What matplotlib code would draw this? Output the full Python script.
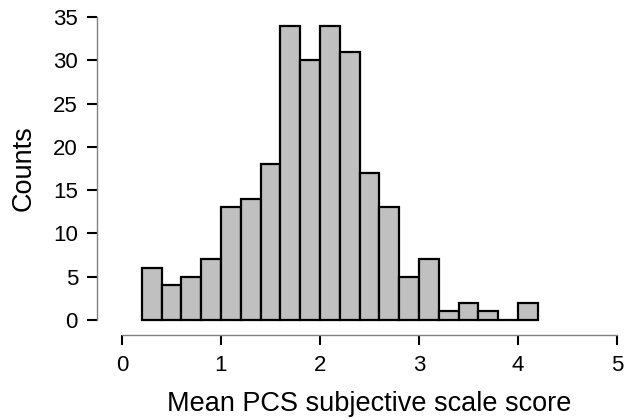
import matplotlib
matplotlib.use("Agg")
import matplotlib.pyplot as plt
import numpy as np

bin_edges = [0.2, 0.4, 0.6, 0.8, 1.0, 1.2, 1.4, 1.6, 1.8, 2.0, 2.2,
             2.4, 2.6, 2.8, 3.0, 3.2, 3.4, 3.6, 3.8, 4.0, 4.2]
counts = [6, 4, 5, 7, 13, 14, 18, 34, 30, 34, 31, 17, 13, 5, 7, 1, 2, 1, 0, 2]
x_ticks = [0, 1, 2, 3, 4, 5]
y_ticks = [0, 5, 10, 15, 20, 25, 30, 35]

plt.rcParams['font.family'] = ['Liberation Sans', 'DejaVu Sans']

fig = plt.figure(figsize=(6.3, 4.2), dpi=100)
ax = fig.add_axes([97/630, (420-335)/420, 520/630, 318/420])

edges = np.array(bin_edges)
ax.bar(edges[:-1], counts, width=np.diff(edges), align='edge',
       color='#C0C0C0', edgecolor='black', linewidth=1.6)

ax.set_xlim(-0.2525, 5.0)
ax.set_ylim(-1.73, 35)
for s in ['top', 'right']:
    ax.spines[s].set_visible(False)
ax.spines['left'].set_bounds(0, 35)
ax.spines['bottom'].set_bounds(0, 5)
for s in ['left', 'bottom']:
    ax.spines[s].set_color('#808080')
    ax.spines[s].set_linewidth(1.0)
ax.set_xticks(x_ticks)
ax.set_yticks(y_ticks)
ax.tick_params(axis='both', length=7.2, width=1.5, color='black',
               labelsize=16)
ax.tick_params(axis='y', pad=6.5)
ax.tick_params(axis='x', pad=7)
ax.set_xlabel('Mean PCS subjective scale score', fontsize=19.5, labelpad=11)
ax.set_ylabel('Counts', fontsize=19.5, labelpad=12)
ax.xaxis.label.set_x((369.5 - 97) / 520)
ax.yaxis.label.set_y((335 - 168.5) / 318)

fig.savefig('out.png', dpi=100)
